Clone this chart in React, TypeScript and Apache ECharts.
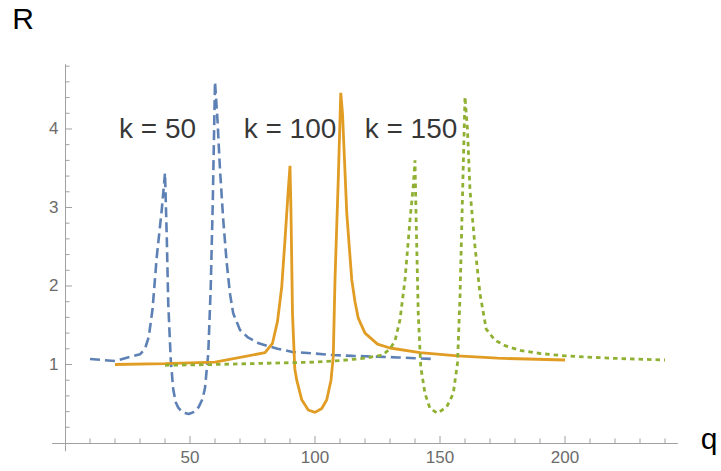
import React, { useEffect, useRef } from "react";
import * as echarts from "echarts";

// k = 50 (blue, dashed)
const qBlue = [10, 20, 30, 32, 33.5, 35, 36.7, 38.7, 40, 40.7, 41.3, 42.3, 43.3, 44.3, 45.3, 47, 49.5, 52, 53.5, 55, 56, 57.3, 58.3, 59.1, 60, 61, 62, 63.3, 64.7, 66, 67.3, 70, 73, 77.5, 85, 91, 100, 107, 115, 125, 133, 140, 148];
const rBlue = [1.07, 1.045, 1.13, 1.2, 1.35, 1.7, 2.37, 2.97, 3.44, 2.63, 1.78, 1.06, 0.68, 0.52, 0.45, 0.39, 0.37, 0.4, 0.46, 0.56, 0.7, 1.14, 1.99, 3.05, 4.6, 4.11, 3.48, 2.84, 2.29, 1.9, 1.65, 1.44, 1.35, 1.27, 1.2, 1.16, 1.14, 1.12, 1.11, 1.1, 1.09, 1.08, 1.07];

// k = 100 (orange, solid)
const qOrange = [20, 40, 60, 80, 83, 85, 86.7, 88, 89.3, 90, 90.4, 91, 91.9, 92.7, 94.7, 97.3, 100, 102.7, 104.7, 106.4, 107.3, 108, 109.3, 110.3, 111, 112.7, 114.7, 116, 117.3, 120, 125, 130, 142, 157, 173, 200];
const rOrange = [1.0, 1.01, 1.03, 1.15, 1.27, 1.55, 1.99, 2.59, 3.22, 3.53, 2.93, 1.65, 0.95, 0.8, 0.55, 0.42, 0.39, 0.44, 0.55, 0.8, 1.1, 2.08, 3.35, 4.46, 4.2, 2.93, 2.08, 1.8, 1.59, 1.4, 1.26, 1.21, 1.15, 1.11, 1.08, 1.057];

// k = 150 (green, dotted)
const qGreen = [40, 60, 80, 100, 110, 120, 127, 130, 132, 134, 136, 138, 139.3, 140, 140.4, 141.3, 142.3, 144, 146, 149, 152.7, 155.3, 157, 158, 159, 160, 161, 162, 164, 166, 168.5, 172, 176, 182, 190, 200, 218, 240];
const rGreen = [0.99, 1.0, 1.015, 1.03, 1.05, 1.08, 1.12, 1.2, 1.3, 1.57, 2.08, 2.84, 3.27, 3.6, 2.93, 1.65, 0.97, 0.63, 0.44, 0.38, 0.46, 0.63, 1.02, 1.86, 3.14, 4.41, 3.99, 3.22, 2.5, 1.9, 1.45, 1.31, 1.24, 1.18, 1.14, 1.11, 1.08, 1.057];

// annotations
const annotTexts = ["k = 50", "k = 100", "k = 150"];
const annotQ = [37, 90, 138.4];
const annotR = [4.01, 4.01, 4.01];

// ticks
const xMajor = [50, 100, 150, 200];
const xMinor = [10, 20, 30, 40, 60, 70, 80, 90, 110, 120, 130, 140, 160, 170, 180, 190, 210, 220, 230, 240];
const yMajor = [1, 2, 3, 4];
const yMinor = [0.2, 0.4, 0.6, 0.8, 1.2, 1.4, 1.6, 1.8, 2.2, 2.4, 2.6, 2.8, 3.2, 3.4, 3.6, 3.8, 4.2, 4.4, 4.6, 4.8];

const FONT = "Liberation Sans, Arial, Helvetica, sans-serif";
const AXIS_COLOR = "#a0a0a0";
const LABEL_COLOR = "#6b6b6b";

const zip = (a: number[], b: number[]) => a.map((v, i) => [v, b[i]]);

// tick series drawn through the axes' own scales
const tickSeries = (values: number[], dir: "x" | "y", len: number) => ({
  type: "custom",
  silent: true,
  z: 1,
  data: values.map((v) => (dir === "x" ? [v, 0] : [0, v])),
  renderItem: (_params: any, api: any) => {
    const c = api.coord([api.value(0), api.value(1)]);
    const shape =
      dir === "x"
        ? { x1: c[0], y1: c[1], x2: c[0], y2: c[1] - len }
        : { x1: c[0], y1: c[1], x2: c[0] + len, y2: c[1] };
    return { type: "line", shape, style: { stroke: AXIS_COLOR, lineWidth: 1 } };
  },
});

export default function App() {
  const ref = useRef<HTMLDivElement>(null);
  useEffect(() => {
    if (!ref.current) return;
    const chart = echarts.init(ref.current, undefined, { renderer: "svg" });
    chart.setOption({
      animation: false,
      backgroundColor: "#ffffff",
      grid: { left: 52.5, right: 43.5, top: 64.6, bottom: 20.15, containLabel: false },
      xAxis: {
        type: "value",
        min: -5,
        max: 245,
        splitLine: { show: false },
        position: "bottom",
        axisLine: { show: true, onZero: true, lineStyle: { color: AXIS_COLOR, width: 1 } },
        axisTick: { show: false },
        axisLabel: { show: true, customValues: xMajor, margin: -2, color: LABEL_COLOR, fontSize: 17, fontFamily: FONT },
      },
      yAxis: {
        type: "value",
        min: -0.1,
        max: 4.82,
        splitLine: { show: false },
        position: "left",
        axisLine: { show: true, onZero: true, lineStyle: { color: AXIS_COLOR, width: 1 } },
        axisTick: { show: false },
        axisLabel: { show: true, customValues: yMajor, margin: -6, color: LABEL_COLOR, fontSize: 17, fontFamily: FONT },
      },
      series: [
        tickSeries(xMajor, "x", 7),
        tickSeries(xMinor, "x", 4.5),
        tickSeries(yMajor, "y", 7),
        tickSeries(yMinor, "y", 4.5),
        {
          type: "line",
          name: "k = 50",
          data: zip(qBlue, rBlue),
          showSymbol: false,
          symbol: "none",
          lineStyle: { color: "#5E81B5", width: 2.6, type: [10, 5] },
          z: 2,
        },
        {
          type: "line",
          name: "k = 100",
          data: zip(qOrange, rOrange),
          showSymbol: false,
          symbol: "none",
          lineStyle: { color: "#E19C24", width: 2.8, type: "solid" },
          z: 2,
        },
        {
          type: "line",
          name: "k = 150",
          data: zip(qGreen, rGreen),
          showSymbol: false,
          symbol: "none",
          lineStyle: { color: "#8FB032", width: 2.8, type: [4.5, 4] },
          z: 2,
        },
        {
          type: "scatter",
          name: "labels",
          symbolSize: 1,
          itemStyle: { color: "rgba(0,0,0,0)" },
          data: annotTexts.map((t, i) => ({ name: t, value: [annotQ[i], annotR[i]] })),
          label: {
            show: true,
            position: "inside",
            formatter: "{b}",
            fontSize: 28,
            fontFamily: FONT,
            color: "#000000",
          },
          z: 5,
        },
      ],
      graphic: [
        {
          type: "text",
          x: 23,
          y: 18,
          style: { text: "R", align: "center", verticalAlign: "middle", fontSize: 30, fontFamily: FONT, fill: "#000000" },
        },
        {
          type: "text",
          x: 709,
          y: 438,
          style: { text: "q", align: "center", verticalAlign: "middle", fontSize: 30, fontFamily: FONT, fill: "#000000" },
        },
      ],
    } as any);
    return () => chart.dispose();
  }, []);
  return (
    <div
      ref={ref}
      style={{ position: "fixed", left: 0, top: 0, width: 721, height: 471, background: "#fff" }}
    />
  );
}
